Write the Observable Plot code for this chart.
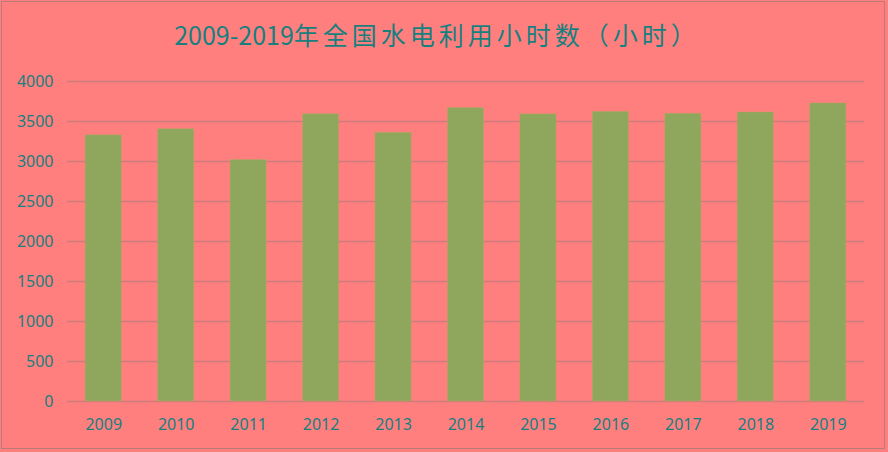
<!DOCTYPE html>
<html>
<head>
<meta charset="utf-8">
<script src="https://cdn.jsdelivr.net/npm/d3@7"></script>
<script src="https://cdn.jsdelivr.net/npm/@observablehq/plot@0.6"></script>
<style>
  html, body { margin: 0; padding: 0; background: #ff7f7f; }
  #wrap { position: relative; width: 888px; height: 452px; background: #ff7f7f; overflow: hidden; }
  #frame { position: absolute; left: 1px; top: 1px; width: 884px; height: 448px; border: 1px solid #b97a7a; box-sizing: border-box; }
  #title { position: absolute; left: 0; top: 17px; width: 874px; text-align: center; font-family: "Noto Sans CJK SC", "Noto Sans", sans-serif; font-size: 25px; color: #16807f; line-height: 34px; white-space: nowrap; }
  #title .cjk { letter-spacing: 4px; }
  #chart { position: absolute; left: 0; top: 60px; }
</style>
</head>
<body>
<div id="wrap">
  <div id="frame"></div>
  <div id="title">2009-2019<span class="cjk">年全国水电利用小时数（小时）</span></div>
  <div id="chart"></div>
</div>
<script>
const years = ["2009","2010","2011","2012","2013","2014","2015","2016","2017","2018","2019"];
const hours = [3328, 3404, 3019, 3591, 3359, 3669, 3590, 3621, 3597, 3613, 3726];
const yTicks = [0, 500, 1000, 1500, 2000, 2500, 3000, 3500, 4000];

const data = years.map((y, i) => ({year: y, value: hours[i]}));

const plot = Plot.plot({
  width: 888,
  height: 392,
  marginTop: 21,
  marginBottom: 51,
  marginLeft: 67,
  marginRight: 24,
  style: {background: "transparent", fontFamily: "'Noto Sans', sans-serif", fontSize: "16px", color: "#16807f"},
  x: {domain: years, paddingInner: 0.5, paddingOuter: 0.25, round: false, label: null},
  y: {domain: [0, 4000], label: null},
  marks: [
    Plot.gridY(yTicks, {stroke: "#cf7b7b", strokeOpacity: 1, strokeWidth: 1.5}),
    Plot.barY(data, {x: "year", y: "value", fill: "#8fa75c", stroke: "#c8a463", strokeOpacity: 0.5, strokeWidth: 0.8}),
    Plot.axisY(yTicks, {tickSize: 0, tickPadding: 14, fill: "#16807f", tickFormat: d => String(d), label: null}),
    Plot.axisX({tickSize: 0, tickPadding: 17, fill: "#16807f", label: null})
  ]
});
document.getElementById("chart").appendChild(plot);
</script>
</body>
</html>
